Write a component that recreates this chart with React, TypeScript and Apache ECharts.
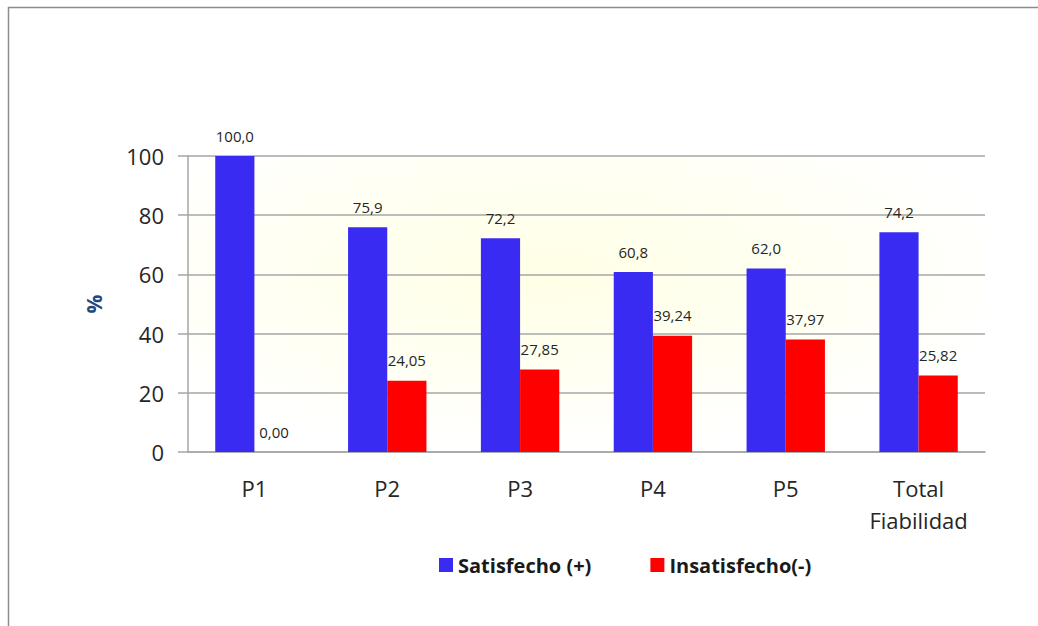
import React, { useEffect, useRef } from "react";
import * as echarts from "echarts";

const categories = ["P1", "P2", "P3", "P4", "P5", "Total\nFiabilidad"];
const satisfecho = [100.0, 75.9, 72.2, 60.8, 62.0, 74.2];
const insatisfecho = [0.0, 24.05, 27.85, 39.24, 37.97, 25.82];
const seriesNames = ["Satisfecho (+)", "Insatisfecho(-)"];
const yTicks = { min: 0, max: 100, interval: 20 };

const FONT = "'Open Sans', 'Noto Sans', sans-serif";

export default function App() {
  const ref = useRef<HTMLDivElement>(null);
  useEffect(() => {
    if (!ref.current) return;
    const chart = echarts.init(ref.current, undefined, { renderer: "svg" });
    const labelStyle = {
      show: true,
      position: "top",
      distance: 13,
      fontSize: 15,
      color: "#262626",
      fontFamily: FONT,
    };
    chart.setOption({
      animation: false,
      backgroundColor: "#ffffff",
      textStyle: { fontFamily: FONT },
      graphic: [
        {
          type: "rect",
          shape: { x: 8.5, y: 7.5, width: 1200, height: 800 },
          style: { fill: "none", stroke: "#8c8c8c", lineWidth: 1.5 },
          silent: true,
          z: 100,
        },
      ],
      grid: {
        left: 188,
        right: 53,
        top: 156,
        bottom: 174,
        show: true,
        borderWidth: 0,
        backgroundColor: {
          type: "radial",
          x: 0.45,
          y: 0.4,
          r: 0.6,
          colorStops: [
            { offset: 0, color: "#ffffe6" },
            { offset: 0.6, color: "#fffff4" },
            { offset: 1, color: "#ffffff" },
          ],
        },
      },
      legend: {
        left: 434,
        top: 550,
        icon: "rect",
        itemWidth: 14,
        itemHeight: 14,
        itemGap: 59,
        textStyle: {
          fontSize: 20,
          fontWeight: "bold",
          color: "#1a1a1a",
          fontFamily: FONT,
        },
        data: seriesNames,
      },
      xAxis: {
        type: "category",
        data: categories,
        axisLine: { show: true, lineStyle: { color: "#a6a6a6", width: 1.5 } },
        axisTick: { show: false },
        axisLabel: {
          margin: 20,
          fontSize: 22,
          color: "#262626",
          lineHeight: 32,
          fontFamily: FONT,
        },
      },
      yAxis: {
        type: "value",
        min: yTicks.min,
        max: yTicks.max,
        interval: yTicks.interval,
        name: "%",
        nameLocation: "middle",
        nameGap: 84,
        nameRotate: 90,
        nameTextStyle: {
          fontSize: 21,
          fontWeight: "bold",
          color: "#1f497d",
          fontFamily: FONT,
        },
        axisLine: { show: true, lineStyle: { color: "#a6a6a6", width: 1.5 } },
        axisTick: { show: true, inside: false, length: 10, lineStyle: { color: "#a6a6a6", width: 1.5 } },
        axisLabel: {
          margin: 24,
          fontSize: 22,
          color: "#262626",
          fontFamily: FONT,
        },
        splitLine: { show: true, lineStyle: { color: "#a6a6a6", width: 1.5 } },
      },
      series: [
        {
          name: seriesNames[0],
          type: "bar",
          data: satisfecho,
          barGap: "0%",
          barCategoryGap: "41%",
          itemStyle: { color: "#3a2bf2" },
          label: {
            ...labelStyle,
            formatter: (p: any) => p.value.toFixed(1).replace(".", ","),
          },
        },
        {
          name: seriesNames[1],
          type: "bar",
          data: insatisfecho,
          barGap: "0%",
          barCategoryGap: "41%",
          itemStyle: { color: "#ff0000" },
          label: {
            ...labelStyle,
            formatter: (p: any) => p.value.toFixed(2).replace(".", ","),
          },
        },
      ],
    });
    return () => chart.dispose();
  }, []);
  return (
    <div
      ref={ref}
      style={{ position: "fixed", left: 0, top: 0, width: 1038, height: 626 }}
    />
  );
}
